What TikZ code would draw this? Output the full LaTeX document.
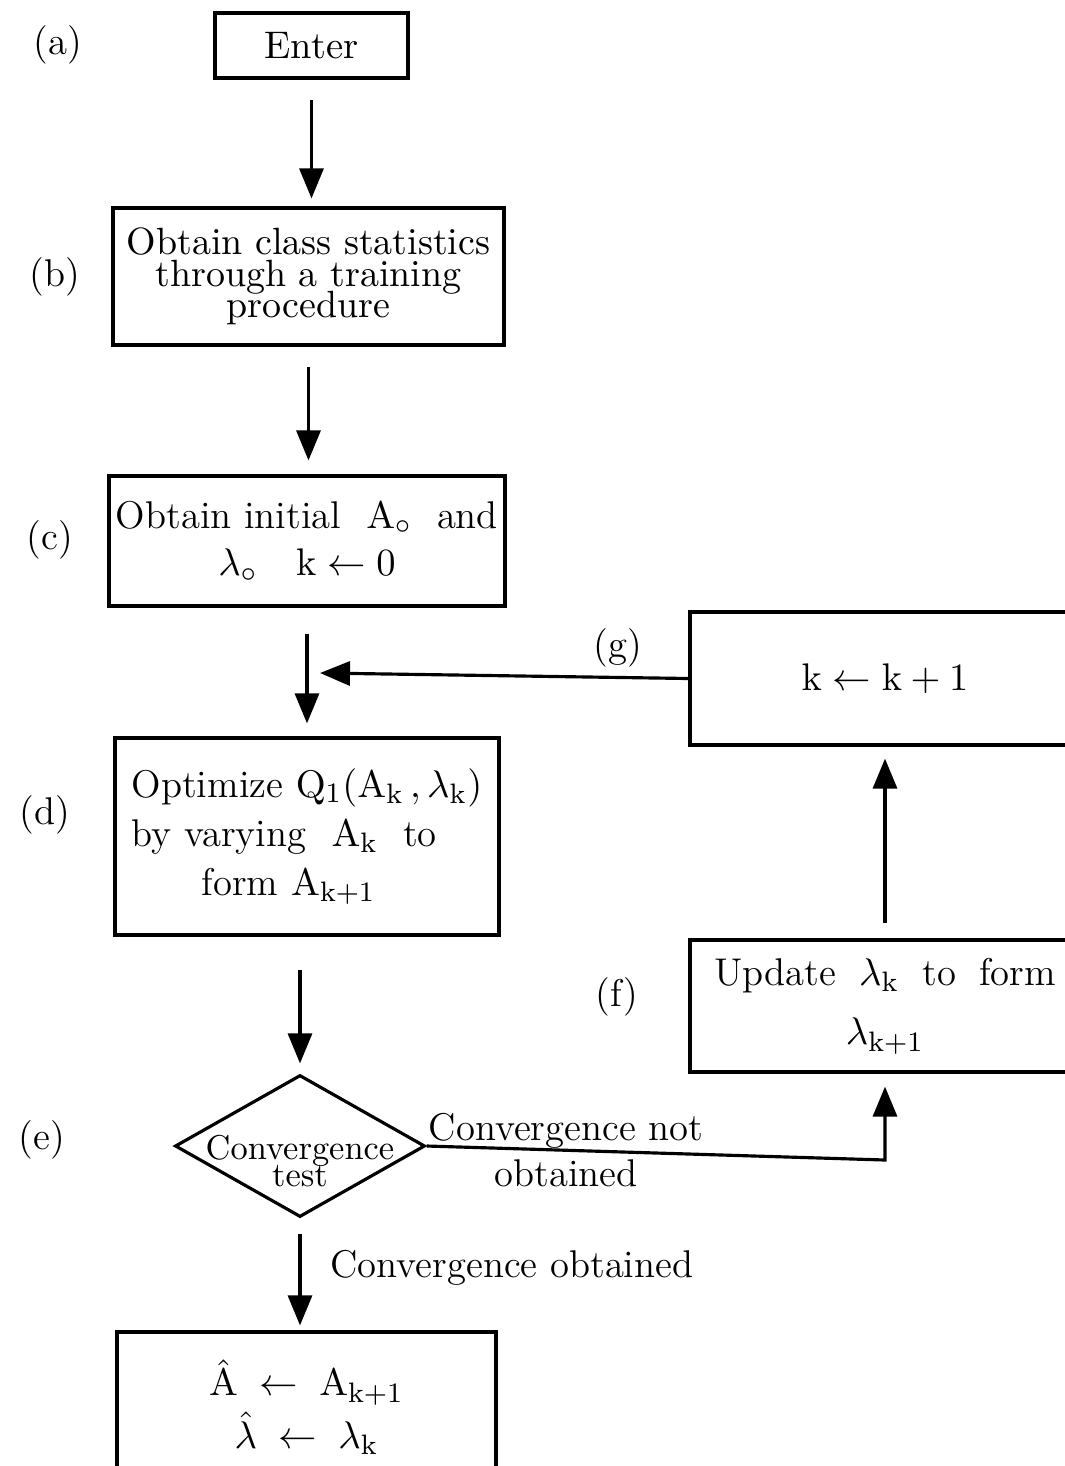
\documentclass[tikz,border=0pt,11pt]{standalone}
\usetikzlibrary{arrows.meta,shapes.geometric}

\newcommand{\tightlines}{\lineskiplimit=-10pt\relax}
\newcommand{\dropline}[1]{\raisebox{-0.27cm}[0pt][0pt]{\makebox[0pt]{#1}}}

\tikzset{
    box/.style={draw, line width=0.9pt, inner sep=2pt},
    decision/.style={draw, line width=0.9pt, diamond, aspect=1.76, inner sep=0pt},
    arr/.style={line width=0.9pt, -{Triangle[width=0.24cm,length=0.3cm]}},
    tag/.style={font=\fontsize{11}{13}\selectfont}
}

\begin{document}
\begin{tikzpicture}[scale=1]

    % --- Page frame (right boxes and last box run off the page) ---
    \useasboundingbox (0,0) rectangle (10.65,-14.66);
    \clip (0,0) rectangle (10.65,-14.66);

    % --- Main column ---
    \node[box, minimum width=1.93cm, minimum height=0.65cm] (enter) at (3.115,-0.455) {Enter};
    \node[box, minimum width=3.91cm, minimum height=1.37cm, align=center,
          font=\fontsize{10.8}{9}\selectfont\tightlines] (train) at (3.085,-2.765)
          {Obtain class statistics\\through a training\\procedure};
    \node[box, minimum width=3.88cm, minimum height=1.30cm, align=center,
          font=\fontsize{11}{13.5}\selectfont] (init) at (3.07,-5.41)
          {Obtain initial \ $\mathrm{A_\circ}$ \ and\\$\lambda_\circ$\quad $\mathrm{k} \leftarrow 0$};
    \node[box, minimum width=3.84cm, minimum height=1.97cm, align=left,
          font=\fontsize{11}{14}\selectfont] (optim) at (3.07,-8.365)
          {Optimize $\mathrm{Q_1(A_k\,,\lambda_k)}$\\by varying \ $\mathrm{A_k}$ \ to\\\hspace*{0.7cm}form $\mathrm{A_{k+1}}$};
    \node[decision, minimum width=2.5cm, minimum height=1.42cm,
          font=\fontsize{9.8}{7.6}\selectfont\tightlines, align=center] (conv) at (3.00,-11.46)
          {\dropline{Convergence}\\\dropline{test}};
    \node[box, minimum width=3.79cm, minimum height=1.5cm, align=center,
          font=\fontsize{11}{15}\selectfont] (final) at (3.065,-14.07)
          {$\hat{\mathrm{A}} \;\leftarrow\; \mathrm{A_{k+1}}$\\$\hat{\lambda} \;\leftarrow\; \lambda_\mathrm{k}$};

    % --- Loop column ---
    \node[box, minimum width=3.9cm, minimum height=1.33cm] (incr) at (8.85,-6.785)
          {$\mathrm{k} \leftarrow \mathrm{k} + 1$};
    \node[box, minimum width=3.9cm, minimum height=1.32cm, align=center,
          font=\fontsize{11}{17}\selectfont] (update) at (8.85,-10.06)
          {Update\hspace{0.6em}$\lambda_\mathrm{k}$\hspace{0.6em}to\hspace{0.6em}form\\$\lambda_\mathrm{k+1}$};

    % --- Step labels ---
    \node[tag] (la) at (0.58,-0.45) {(a)};
    \node[tag] (lb) at (0.55,-2.77) {(b)};
    \node[tag] (lc) at (0.50,-5.40) {(c)};
    \node[tag] (ld) at (0.45,-8.15) {(d)};
    \node[tag] (le) at (0.42,-11.40) {(e)};
    \node[tag] (lf) at (6.17,-9.97) {(f)};
    \node[tag] (lg) at (6.18,-6.48) {(g)};

    % --- Branch texts ---
    \node[tag, align=center] (notok) at (5.66,-11.50) {Convergence not\\obtained};
    \node[tag, anchor=west] (ok) at (3.17,-12.68) {Convergence obtained};

    % --- Helper points ---
    \coordinate (turn) at (8.85,-11.6);
    \coordinate (join) at (3.2,-6.73);

    % --- Connectors ---
    \draw[arr, shorten <=0.2cm, shorten >=0.08cm] (enter.south) -- (enter.south |- train.north);
    \draw[arr, shorten <=0.2cm, shorten >=0.14cm] (train.south) -- (train.south |- init.north);
    \draw[arr, shorten <=0.26cm, shorten >=0.13cm] (init.south) -- (init.south |- optim.north);
    \draw[arr, shorten <=0.33cm, shorten >=0.1cm] (optim.south -| conv.north) -- (conv.north);
    \draw[arr, shorten <=0.15cm, shorten >=0.05cm] (conv.south) -- (conv.south |- final.north);
    \draw[arr, shorten >=0.13cm] (conv.east) -- (turn) -- (update.south);
    \draw[arr, shorten <=0.15cm, shorten >=0.12cm] (update.north) -- (incr.south);
    \draw[arr] (incr.west) -- (join);

\end{tikzpicture}
\end{document}
